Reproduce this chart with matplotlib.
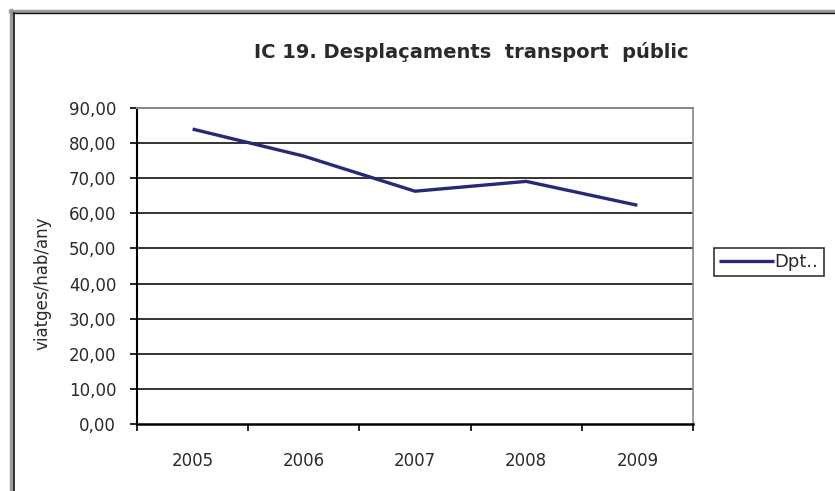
import matplotlib.pyplot as plt
from matplotlib.lines import Line2D

years = ["2005", "2006", "2007", "2008", "2009"]
dpt = [84.0, 76.3, 66.3, 69.1, 62.3]
yticks = [0, 10, 20, 30, 40, 50, 60, 70, 80, 90]

plt.rcParams["font.family"] = ["DejaVu Sans"]

W, H = 835, 491
TXT = "#2a2a2a"
fig = plt.figure(figsize=(W / 100, H / 100), dpi=100)
ax = fig.add_axes([137 / W, 1 - 424 / H, (693 - 137) / W, (424 - 108) / H])

x = list(range(len(years)))
ax.plot(x, dpt, color="#282878", lw=2.4, label="Dpt..", solid_capstyle="butt")

ax.set_xlim(-0.5, len(years) - 0.5)
ax.set_ylim(0, 90)
ax.set_yticks(yticks)
ax.set_yticklabels([f"{v:.2f}".replace(".", ",") for v in yticks], fontsize=12, color=TXT)
for v in yticks[1:-1]:
    ax.axhline(v, color="#111111", lw=1.2, zorder=0)

# category ticks on boundaries, labels in the middle
ax.set_xticks([i - 0.5 for i in range(len(years) + 1)])
ax.set_xticklabels([])
ax.set_xticks(x, minor=True)
ax.set_xticklabels(years, minor=True, fontsize=12, color=TXT)
ax.tick_params(axis="x", which="major", length=5, width=1.2, direction="out")
ax.tick_params(axis="x", which="minor", length=0, pad=20)
ax.tick_params(axis="y", length=5, width=1.2, direction="out", pad=10)

ax.spines["left"].set_linewidth(1.5)
ax.spines["bottom"].set_linewidth(1.8)
ax.spines["top"].set_color("#888888")
ax.spines["right"].set_color("#888888")
ax.spines["top"].set_linewidth(1.5)
ax.spines["right"].set_linewidth(1.2)

fig.text(43 / W, 1 - 283 / H, "viatges/hab/any", rotation=90, ha="center", va="center",
         fontsize=12, color=TXT)
fig.text(471 / W, 1 - 52 / H, "IC 19. Desplaçaments  transport  públic",
         ha="center", va="center", fontsize=14, fontweight="bold", color=TXT)

leg = ax.legend(loc="center left", bbox_to_anchor=(714 / W, 1 - 262 / H),
                bbox_transform=fig.transFigure, frameon=True, fancybox=False,
                borderaxespad=0, fontsize=13, handlelength=3.0, borderpad=0.3,
                handletextpad=0.05)
leg.get_frame().set_edgecolor("black")
leg.get_frame().set_linewidth(1.2)
for t in leg.get_texts():
    t.set_color(TXT)

# outer chart frame (gray + black double line)
fig.add_artist(Line2D([10.5 / W, 10.5 / W], [0, 1 - 10 / H], color="#9a9a9a", lw=2.5, transform=fig.transFigure))
fig.add_artist(Line2D([10 / W, 1], [1 - 10.5 / H, 1 - 10.5 / H], color="#9a9a9a", lw=2.5, transform=fig.transFigure))
fig.add_artist(Line2D([13.5 / W, 13.5 / W], [0, 1 - 13 / H], color="#111111", lw=1.2, transform=fig.transFigure))
fig.add_artist(Line2D([13 / W, 1], [1 - 13 / H, 1 - 13 / H], color="#111111", lw=1.0, transform=fig.transFigure))

fig.savefig("out.png", dpi=100)
